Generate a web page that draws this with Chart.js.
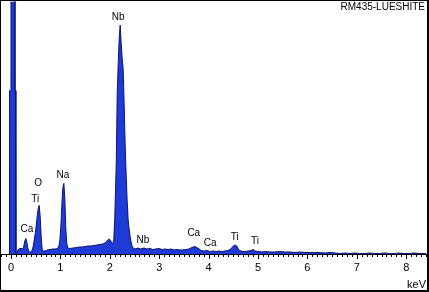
<!DOCTYPE html>
<html><head><meta charset="utf-8">
<script src="https://cdn.jsdelivr.net/npm/chart.js@4.4.1/dist/chart.umd.min.js"></script>
<style>html,body{margin:0;padding:0;background:#fff;} #wrap{width:429px;height:292px;position:relative;}</style>
</head><body><div id="wrap"><canvas id="c" width="429" height="292"></canvas></div>
<script>
const chartTitle = 'RM435-LUESHITE';
const axisUnit = 'keV';
const axisTicks = [0, 1, 2, 3, 4, 5, 6, 7, 8];

const energies = [
 -0.04,-0.03,-0.01,0.00,0.07,0.08,0.09,0.10,
 0.12,0.14,0.16,0.18,0.20,0.22,0.24,0.26,0.28,0.30,0.32,0.34,0.36,0.38,0.40,
 0.43,0.45,0.47,0.49,0.51,0.53,0.55,0.57,0.59,0.61,0.63,0.65,0.69,0.73,0.79,0.85,0.91,0.95,0.97,0.99,
 1.01,1.03,1.05,1.07,1.09,1.11,1.13,1.15,1.19,1.26,1.32,1.38,1.44,1.50,1.56,1.62,1.68,1.74,1.80,1.86,1.90,1.94,1.98,
 2.00,2.02,2.04,2.06,2.08,2.10,2.13,2.15,2.17,2.19,2.21,2.23,2.25,2.27,2.29,2.31,2.33,2.35,2.37,2.39,2.41,2.43,2.45,2.47,
 2.51,2.57,2.63,2.69,2.75,2.81,2.87,2.93,2.99,3.06,3.12,3.18,3.24,3.30,3.36,3.42,3.48,3.54,3.60,3.66,3.72,3.78,3.85,3.91,3.97,
 4.03,4.09,4.15,4.21,4.27,4.33,4.39,4.45,4.49,4.53,4.57,4.61,4.68,4.74,4.80,4.86,4.90,4.94,5.00,5.08,5.16,5.24,5.34,5.44,5.54,
 5.65,5.75,5.85,5.95,6.05,6.15,6.26,6.36,6.46,6.56,6.66,6.76,6.86,6.96,7.06,7.16,7.26,7.36,7.46,7.56,7.66,7.76,7.86,7.96,
 8.06,8.16,8.26,8.36,8.42
];
const counts = [
 0,1630,1630,8000,8000,1630,1630,0,
 10,40,50,60,50,60,40,80,130,155,120,60,30,15,20,
 40,80,140,200,280,380,450,485,380,180,50,30,30,40,45,50,50,60,80,140,
 280,500,660,705,550,250,100,60,55,60,65,70,70,75,80,80,85,90,95,100,110,130,150,
 145,130,110,105,140,350,900,1600,1900,2150,2285,2110,1960,1850,1500,1100,800,550,350,250,180,120,80,60,
 50,60,50,60,50,55,45,50,55,45,50,45,50,40,45,40,40,45,50,65,75,60,35,30,35,
 25,30,25,30,25,30,35,50,75,90,80,40,25,25,30,35,45,30,25,20,25,20,20,25,20,
 20,15,20,15,15,15,15,10,15,10,5,10,5,10,5,5,10,5,5,10,5,5,10,5,
 5,10,5,5,5
];

const peakNames = ['Nb','O','Ti','Ca','Na','Nb','Ca','Ca','Ti','Ti'];
const peakEnergies = [2.17,0.55,0.49,0.32,1.05,2.67,3.70,4.03,4.53,4.94];
const peakLabelCounts = [2365,705,545,245,785,135,205,105,165,125];

const FONT = '"Liberation Sans", Arial, sans-serif';

const decor = {
  id: 'decor',
  afterDatasetsDraw(chart) {
    const {ctx, chartArea: a, scales: {x, y}} = chart;
    ctx.save();
    ctx.fillStyle = '#000';
    const by = Math.round(a.bottom);
    ctx.fillRect(1, by, 427, 1);
    for (let i = -2; i <= 85; i++) {
      const px = Math.round(x.getPixelForValue(i / 10));
      if (px < 1 || px > 426) continue;
      ctx.fillRect(px, by, 1, (i % 10 === 0) ? 5 : 3);
    }
    ctx.font = '10px ' + FONT;
    ctx.textAlign = 'center';
    ctx.textBaseline = 'middle';
    peakNames.forEach((n, i) => {
      ctx.fillText(n, x.getPixelForValue(peakEnergies[i]), y.getPixelForValue(peakLabelCounts[i]));
    });
    ctx.textAlign = 'right';
    ctx.fillText(chartTitle, 425, 7);
    ctx.font = '11px ' + FONT;
    ctx.fillText(axisUnit, 426, 285);
    ctx.fillRect(0, 0, 429, 1);
    ctx.fillRect(0, 0, 1, 292);
    ctx.fillRect(427, 0, 2, 292);
    ctx.fillRect(0, 290, 429, 2);
    ctx.restore();
  }
};

new Chart(document.getElementById('c'), {
  type: 'line',
  data: {
    datasets: [{
      data: energies.map((e, i) => ({x: e, y: counts[i]})),
      borderColor: '#0b1670',
      borderWidth: 1,
      backgroundColor: 'rgb(30,58,215)',
      fill: 'origin',
      pointRadius: 0,
      tension: 0
    }]
  },
  options: {
    responsive: false,
    animation: false,
    layout: {padding: {left: 2, right: 3, top: 1.5, bottom: 0}},
    plugins: {legend: {display: false}, tooltip: {enabled: false}, title: {display: false}},
    scales: {
      x: {
        type: 'linear', min: -0.182, max: 8.40,
        afterBuildTicks: s => { s.ticks = axisTicks.map(v => ({value: v})); },
        afterFit: s => { s.height = 38; },
        grid: {display: false, drawTicks: false},
        border: {display: false},
        ticks: {color: '#000', font: {family: FONT, size: 11}, padding: 7, maxRotation: 0, autoSkip: false, callback: v => String(v)}
      },
      y: {display: false, min: 0, max: 2520}
    }
  },
  plugins: [decor]
});
</script>
</body></html>
